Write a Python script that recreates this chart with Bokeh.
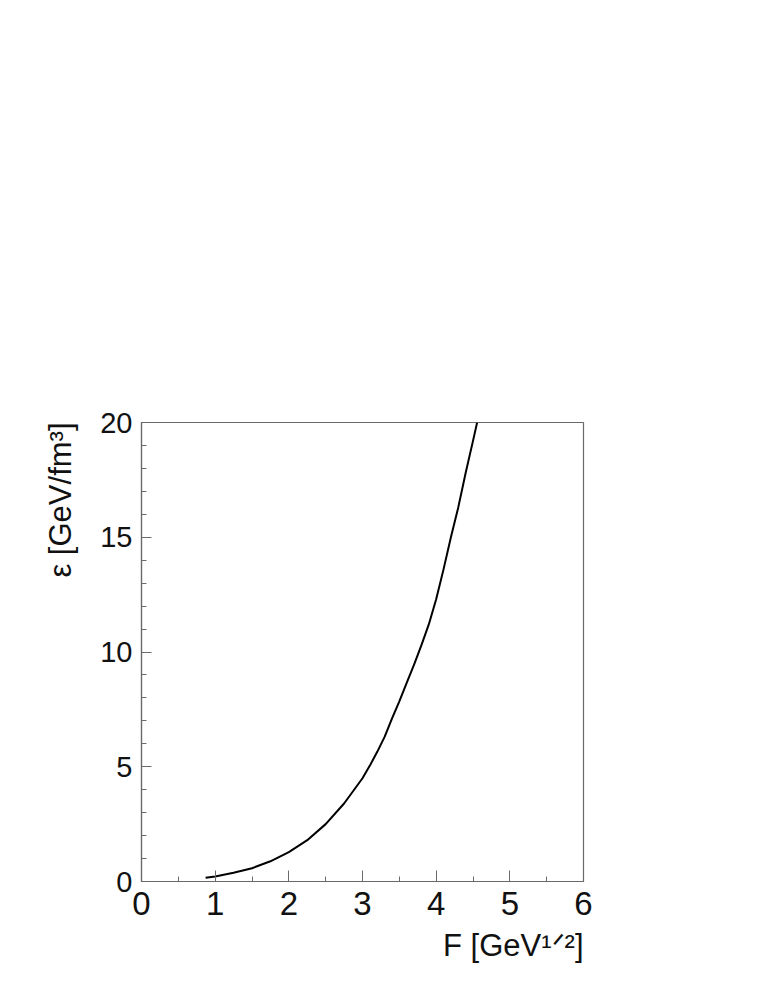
from bokeh.plotting import figure
from bokeh.models import Range1d, SingleIntervalTicker, Title
from bokeh.embed import file_html
from bokeh.resources import INLINE

# data
F_vals = [0.87, 1.0, 1.25, 1.5, 1.75, 2.0, 2.25, 2.5, 2.75, 3.0, 3.1, 3.2, 3.3, 3.4, 3.5,
          3.6, 3.7, 3.8, 3.9, 4.0, 4.1, 4.2, 4.3, 4.4, 4.5, 4.556]
eps_vals = [0.16, 0.22, 0.38, 0.58, 0.88, 1.28, 1.8, 2.5, 3.4, 4.5, 5.05, 5.65, 6.3, 7.1, 7.85,
            8.65, 9.45, 10.3, 11.2, 12.3, 13.6, 15.0, 16.3, 17.8, 19.2, 20.0]

X_MIN, X_MAX = 0, 6
Y_MIN, Y_MAX = 0, 20
x_title = "F [GeV¹ᐟ²]"
y_title = "ε [GeV/fm³]"

FONT = "Liberation Sans"
GREY = "#6a6a6a"
TXT = "#111111"

p = figure(width=700, height=984, output_backend="svg", toolbar_location=None,
           x_range=Range1d(X_MIN, X_MAX), y_range=Range1d(Y_MIN, Y_MAX),
           min_border_left=141, min_border_top=422, min_border_right=117, min_border_bottom=103)
p.background_fill_color = "white"
p.border_fill_color = "white"
p.outline_line_color = GREY
p.outline_line_width = 1.2
p.grid.visible = False

p.xaxis.ticker = SingleIntervalTicker(interval=1, num_minor_ticks=2)
p.yaxis.ticker = SingleIntervalTicker(interval=5, num_minor_ticks=5)
for ax in (p.xaxis[0], p.yaxis[0]):
    ax.axis_line_color = GREY
    ax.axis_line_width = 1.2
    ax.major_tick_line_color = GREY
    ax.minor_tick_line_color = GREY
    ax.major_tick_out = 0
    ax.minor_tick_out = 0
    ax.major_label_text_font = FONT
    ax.major_label_text_color = TXT
p.xaxis.major_tick_in = 11
p.xaxis.minor_tick_in = 5
p.yaxis.major_tick_in = 10
p.yaxis.minor_tick_in = 5
p.xaxis.major_label_text_font_size = "33px"
p.yaxis.major_label_text_font_size = "29px"
p.xaxis.major_label_standoff = 10
p.yaxis.major_label_standoff = 9

p.line(F_vals, eps_vals, line_color="black", line_width=2, line_join="round")

xt = Title(text=x_title, align="right", text_font=FONT, text_font_size="31px",
           text_font_style="normal", text_color=TXT, standoff=17, offset=0)
p.add_layout(xt, "below")
yt = Title(text=y_title, align="right", text_font=FONT, text_font_size="31px",
           text_font_style="normal", text_color=TXT, standoff=40, offset=0)
p.add_layout(yt, "left")

open("out.html", "w").write(file_html(p, INLINE))
